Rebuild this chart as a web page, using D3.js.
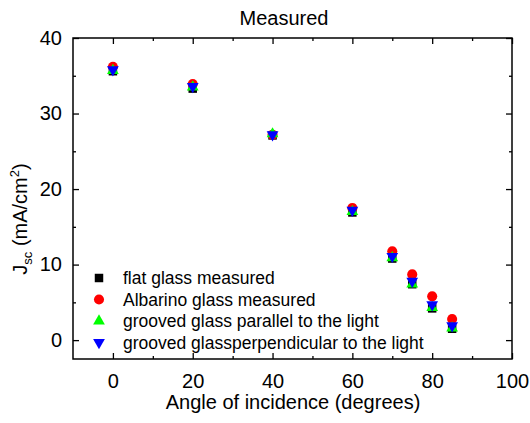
<!DOCTYPE html>
<html>
<head>
<meta charset="utf-8">
<script src="https://cdn.jsdelivr.net/npm/d3@7"></script>
<style>
  body { margin: 0; background: #fff; }
  svg { display: block; font-family: "Liberation Sans", Arial, sans-serif; }
</style>
</head>
<body>
<svg id="chart"></svg>
<script>
// angles of incidence (degrees)
const angles = [0, 20, 40, 60, 70, 75, 80, 85];

// Jsc values (mA/cm2)
const flatGlass = [35.6, 33.3, 27.1, 16.9, 10.8, 7.4, 4.2, 1.5];
const albarinoGlass = [36.2, 33.9, 27.2, 17.5, 11.75, 8.7, 5.8, 2.8];
const groovedParallel = [35.7, 33.5, 27.3, 17.0, 10.9, 7.4, 4.3, 1.6];
const groovedPerpendicular = [35.8, 33.6, 27.2, 17.2, 11.1, 7.8, 4.7, 1.9];

const seriesNames = [
  'flat glass measured',
  'Albarino glass measured',
  'grooved glass parallel to the light',
  'grooved glassperpendicular to the light'
];

const xTicks = [0, 20, 40, 60, 80, 100];
const xMinor = [10, 30, 50, 70, 90];
const yTicks = [0, 10, 20, 30, 40];
const yMinor = [5, 15, 25, 35];

const series = [
  { name: seriesNames[0], values: flatGlass, color: '#000000', symbol: d3.symbolSquare, size: 72, rot: 0 },
  { name: seriesNames[1], values: albarinoGlass, color: '#ff0000', symbol: d3.symbolCircle, size: 80, rot: 0 },
  { name: seriesNames[2], values: groovedParallel, color: '#00ff00', symbol: d3.symbolTriangle, size: 60, rot: 0 },
  { name: seriesNames[3], values: groovedPerpendicular, color: '#0000ff', symbol: d3.symbolTriangle, size: 60, rot: 180 }
];

const W = 530, H = 423;
const margin = { top: 38, right: 18, bottom: 64, left: 73 };
const width = W - margin.left - margin.right;
const height = H - margin.top - margin.bottom;

const root = d3.select('#chart').attr('width', W).attr('height', H);
const svg = root.append('g').attr('transform', `translate(${margin.left},${margin.top})`);

const x = d3.scaleLinear().domain([-10, 100]).range([0, width]);
const y = d3.scaleLinear().domain([-2.5, 40]).range([height, 0]);

const majorLen = 6, minorLen = 3;

// bottom axis (ticks point inward)
const gx = svg.append('g').attr('transform', `translate(0,${height})`);
gx.call(d3.axisBottom(x).tickValues(xTicks).tickSize(-majorLen).tickPadding(majorLen + 9));
gx.append('g').call(d3.axisBottom(x).tickValues(xMinor).tickSize(-minorLen).tickFormat(''));

// top axis
const gt = svg.append('g');
gt.call(d3.axisTop(x).tickValues(xTicks).tickSize(-majorLen).tickFormat(''));
gt.append('g').call(d3.axisTop(x).tickValues(xMinor).tickSize(-minorLen).tickFormat(''));

// left axis
const gy = svg.append('g');
gy.call(d3.axisLeft(y).tickValues(yTicks).tickSize(-majorLen).tickPadding(majorLen + 5));
gy.append('g').call(d3.axisLeft(y).tickValues(yMinor).tickSize(-minorLen).tickFormat(''));

// right axis
const gr = svg.append('g').attr('transform', `translate(${width},0)`);
gr.call(d3.axisRight(y).tickValues(yTicks).tickSize(-majorLen).tickFormat(''));
gr.append('g').call(d3.axisRight(y).tickValues(yMinor).tickSize(-minorLen).tickFormat(''));

svg.selectAll('.domain').remove();
svg.selectAll('.tick line').attr('stroke', '#000').attr('stroke-width', 1.3);
svg.selectAll('.tick text').attr('fill', '#000').style('font-size', '20px');

// frame
svg.append('rect')
  .attr('x', 0).attr('y', 0)
  .attr('width', width).attr('height', height)
  .attr('fill', 'none')
  .attr('stroke', '#000')
  .attr('stroke-width', 1.5);

// points
series.forEach((s) => {
  svg.append('g')
    .selectAll('path')
    .data(angles.map((a, i) => ({ a, v: s.values[i] })))
    .enter()
    .append('path')
    .attr('d', d3.symbol().type(s.symbol).size(s.size))
    .attr('transform', (d) => `translate(${x(d.a)},${y(d.v)}) rotate(${s.rot})`)
    .attr('fill', s.color);
});

// legend
const legend = svg.append('g').attr('transform', 'translate(26,240)');
series.forEach((s, i) => {
  const row = legend.append('g').attr('transform', `translate(0,${i * 21.5})`);
  row.append('path')
    .attr('d', d3.symbol().type(s.symbol).size(s.size))
    .attr('transform', `rotate(${s.rot})`)
    .attr('fill', s.color);
  row.append('text')
    .attr('x', 24)
    .attr('dy', '0.35em')
    .style('font-size', '17.5px')
    .text(s.name);
});

// title
root.append('text')
  .attr('x', 284)
  .attr('y', 25)
  .attr('text-anchor', 'middle')
  .style('font-size', '20px')
  .text('Measured');

// x label
root.append('text')
  .attr('x', 293)
  .attr('y', 409)
  .attr('text-anchor', 'middle')
  .style('font-size', '20px')
  .text('Angle of incidence (degrees)');

// y label
const yl = root.append('text')
  .attr('transform', 'translate(27,219) rotate(-90)')
  .attr('text-anchor', 'middle')
  .style('font-size', '20px');
yl.append('tspan').text('J');
yl.append('tspan').attr('dy', 5).style('font-size', '13px').text('sc');
yl.append('tspan').attr('dy', -5).text(' (mA/cm');
yl.append('tspan').attr('dy', -8).style('font-size', '13px').text('2');
yl.append('tspan').attr('dy', 8).text(')');
</script>
</body>
</html>
